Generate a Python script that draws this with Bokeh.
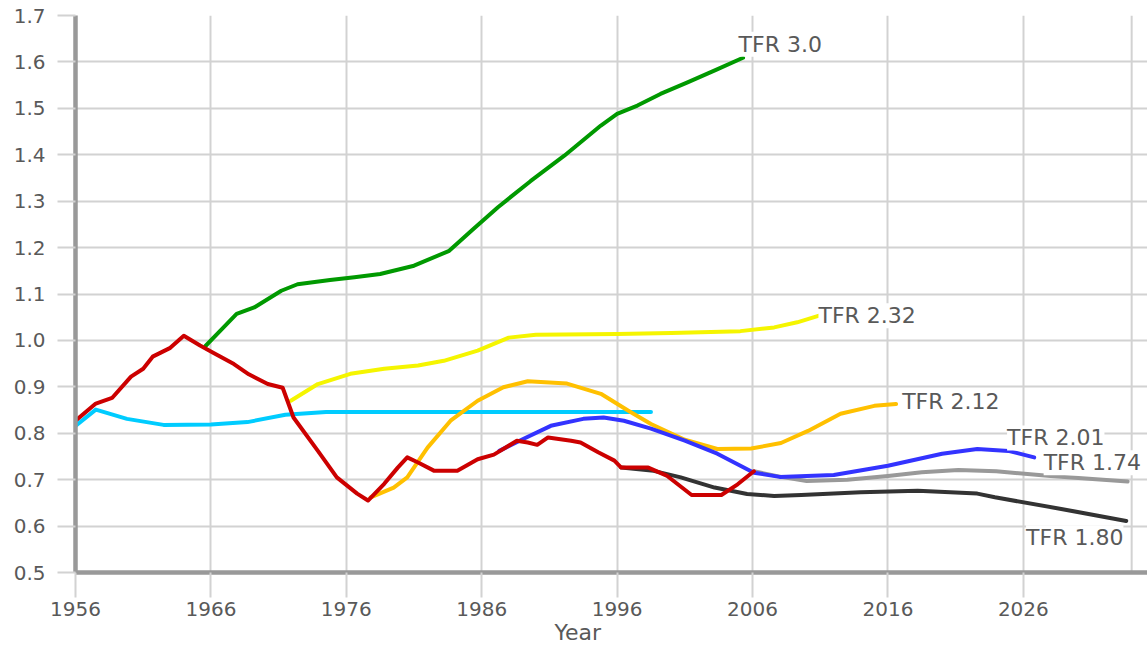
from bokeh.plotting import figure
from bokeh.models import FixedTicker, PrintfTickFormatter, Label, Range1d, Title, Span
from bokeh.embed import file_html
from bokeh.resources import INLINE

# ---- data ----
red_x = [1956, 1957.5, 1958.7, 1960.1, 1961, 1961.7, 1963, 1964, 1965.2, 1966.2, 1967.7,
         1968.8, 1970.2, 1971.3, 1972.1, 1973.9, 1975.3, 1976.8, 1977.6, 1978.8, 1979.8,
         1980.5, 1981.3, 1982.5, 1984.2, 1985.7, 1986.9, 1988.6, 1989.4, 1990.1, 1990.9,
         1992.6, 1993.3, 1994.6, 1995.8, 1996.3, 1998.3, 1999.7, 2001.5, 2003.7, 2004.9, 2006.1]
red_y = [0.827, 0.864, 0.876, 0.922, 0.939, 0.965, 0.984, 1.010, 0.989, 0.973, 0.949,
         0.927, 0.906, 0.898, 0.834, 0.762, 0.705, 0.670, 0.655, 0.691, 0.726,
         0.748, 0.737, 0.719, 0.719, 0.744, 0.754, 0.784, 0.780, 0.775, 0.791,
         0.784, 0.780, 0.759, 0.741, 0.726, 0.726, 0.708, 0.667, 0.667, 0.690, 0.718]

cyan_x = [1956, 1957.5, 1959.8, 1962.5, 1966, 1968.7, 1971.5, 1974.5, 1980, 1990, 1998.5]
cyan_y = [0.816, 0.851, 0.831, 0.818, 0.819, 0.824, 0.840, 0.846, 0.846, 0.846, 0.846]

green_x = [1965.6, 1966.7, 1967.9, 1969.2, 1971.2, 1972.4, 1974.8, 1976.6, 1978.5, 1981,
           1983.6, 1985.3, 1987.2, 1989.6, 1992.1, 1994.8, 1996, 1997.5, 1999.2, 2001.2,
           2003.3, 2005.3]
green_y = [0.988, 1.021, 1.057, 1.071, 1.107, 1.121, 1.130, 1.136, 1.143, 1.161,
           1.193, 1.238, 1.287, 1.343, 1.398, 1.463, 1.488, 1.506, 1.531, 1.556,
           1.583, 1.609]

yellow_x = [1971.9, 1973.9, 1976.3, 1978.8, 1981.3, 1983.2, 1985.7, 1988, 1990, 1996,
            2000, 2005.1, 2007.6, 2009.3, 2011.1]
yellow_y = [0.870, 0.906, 0.928, 0.939, 0.946, 0.956, 0.978, 1.006, 1.012, 1.014,
            1.016, 1.020, 1.028, 1.039, 1.055]

orange_x = [1977.8, 1979.5, 1980.5, 1982, 1983.7, 1985.7, 1987.6, 1989.4, 1992.3, 1994.8,
            1996.8, 1998.5, 2001, 2003.4, 2005.9, 2008.1, 2010.1, 2012.5, 2015, 2016.6]
orange_y = [0.662, 0.683, 0.705, 0.769, 0.827, 0.870, 0.899, 0.912, 0.907, 0.885,
            0.849, 0.820, 0.786, 0.766, 0.767, 0.779, 0.805, 0.842, 0.859, 0.863]

blue_x = [1987.3, 1989.1, 1991.1, 1993.5, 1995, 1996.5, 1998.5, 2001, 2003.4, 2006.1,
          2008, 2012, 2016, 2020, 2022.6, 2024.9, 2026.8]
blue_y = [0.762, 0.788, 0.816, 0.831, 0.834, 0.827, 0.810, 0.784, 0.756, 0.715,
          0.706, 0.710, 0.730, 0.756, 0.766, 0.762, 0.748]

gray_x = [2006.1, 2008.1, 2010, 2013, 2016, 2018.5, 2021.2, 2024, 2028, 2033.7]
gray_y = [0.718, 0.706, 0.697, 0.700, 0.708, 0.716, 0.721, 0.718, 0.708, 0.696]

black_x = [1996.3, 1998.7, 2000.7, 2003.2, 2005.6, 2007.6, 2009.6, 2014, 2018.2, 2022.6,
           2023.9, 2028.8, 2033.6]
black_y = [0.726, 0.719, 0.705, 0.683, 0.669, 0.665, 0.667, 0.673, 0.676, 0.670,
           0.662, 0.637, 0.611]

x_ticks = [1956, 1966, 1976, 1986, 1996, 2006, 2016, 2026]
y_ticks = [0.5, 0.6, 0.7, 0.8, 0.9, 1.0, 1.1, 1.2, 1.3, 1.4, 1.5, 1.6, 1.7]

labels = ["TFR 3.0", "TFR 2.32", "TFR 2.12", "TFR 2.01", "TFR 1.74", "TFR 1.80"]
label_x = [2004.97, 2010.87, 2017.05, 2024.8, 2027.5, 2026.2]
label_y = [1.638, 1.053, 0.869, 0.790, 0.7365, 0.575]

FONT = "DejaVu Sans"
TXT = "#595959"
GRID = "#d2d2d2"
AXIS = "#999999"

p = figure(width=1147, height=646, output_backend="svg", toolbar_location=None,
           x_range=Range1d(1956, 2035.17), y_range=Range1d(0.5, 1.7),
           min_border_left=75, min_border_right=0, min_border_top=15,
           min_border_bottom=74)
p.outline_line_color = None
p.background_fill_color = "white"

p.xaxis.ticker = FixedTicker(ticks=x_ticks)
p.yaxis.ticker = FixedTicker(ticks=y_ticks)
p.yaxis.formatter = PrintfTickFormatter(format="%.1f")
for ax in (p.xaxis, p.yaxis):
    ax.axis_line_color = AXIS
    ax.axis_line_width = 4.5
    ax.major_tick_line_color = GRID
    ax.major_tick_line_width = 2
    ax.major_tick_in = 0
    ax.minor_tick_line_color = None
    ax.major_label_text_font = FONT
    ax.major_label_text_font_size = "20px"
    ax.major_label_text_color = TXT
p.yaxis.major_tick_out = 18
p.yaxis.major_label_standoff = 12
p.xaxis.major_tick_out = 25
p.xaxis.major_label_standoff = 4

p.xgrid.ticker = FixedTicker(ticks=x_ticks)
p.ygrid.ticker = FixedTicker(ticks=y_ticks)
for g in (p.xgrid, p.ygrid):
    g.grid_line_color = GRID
    g.grid_line_width = 2

p.add_layout(Span(location=2034.0, dimension="height", line_color=GRID, line_width=2,
                  level="underlay"))

lw = 4
series = [
    (cyan_x, cyan_y, "#00ccff"),
    (yellow_x, yellow_y, "#f5f500"),
    (green_x, green_y, "#009900"),
    (orange_x, orange_y, "#ffc000"),
    (gray_x, gray_y, "#999999"),
    (black_x, black_y, "#333333"),
    (blue_x, blue_y, "#3333ff"),
    (red_x, red_y, "#cc0000"),
]
for xs, ys, c in series:
    p.line(xs, ys, line_color=c, line_width=lw, line_join="round", line_cap="round")

for t, lx, ly in zip(labels, label_x, label_y):
    p.add_layout(Label(x=lx, y=ly, text=t, text_font=FONT, text_font_size="22px",
                       text_color=TXT, text_baseline="middle", text_align="left",
                       background_fill_color="white"))

p.add_layout(Title(text="Year", align="left", offset=479, standoff=-1,
                   text_font=FONT, text_font_size="22px", text_font_style="normal",
                   text_color=TXT), "below")

open("out.html", "w").write(file_html(p, INLINE))
